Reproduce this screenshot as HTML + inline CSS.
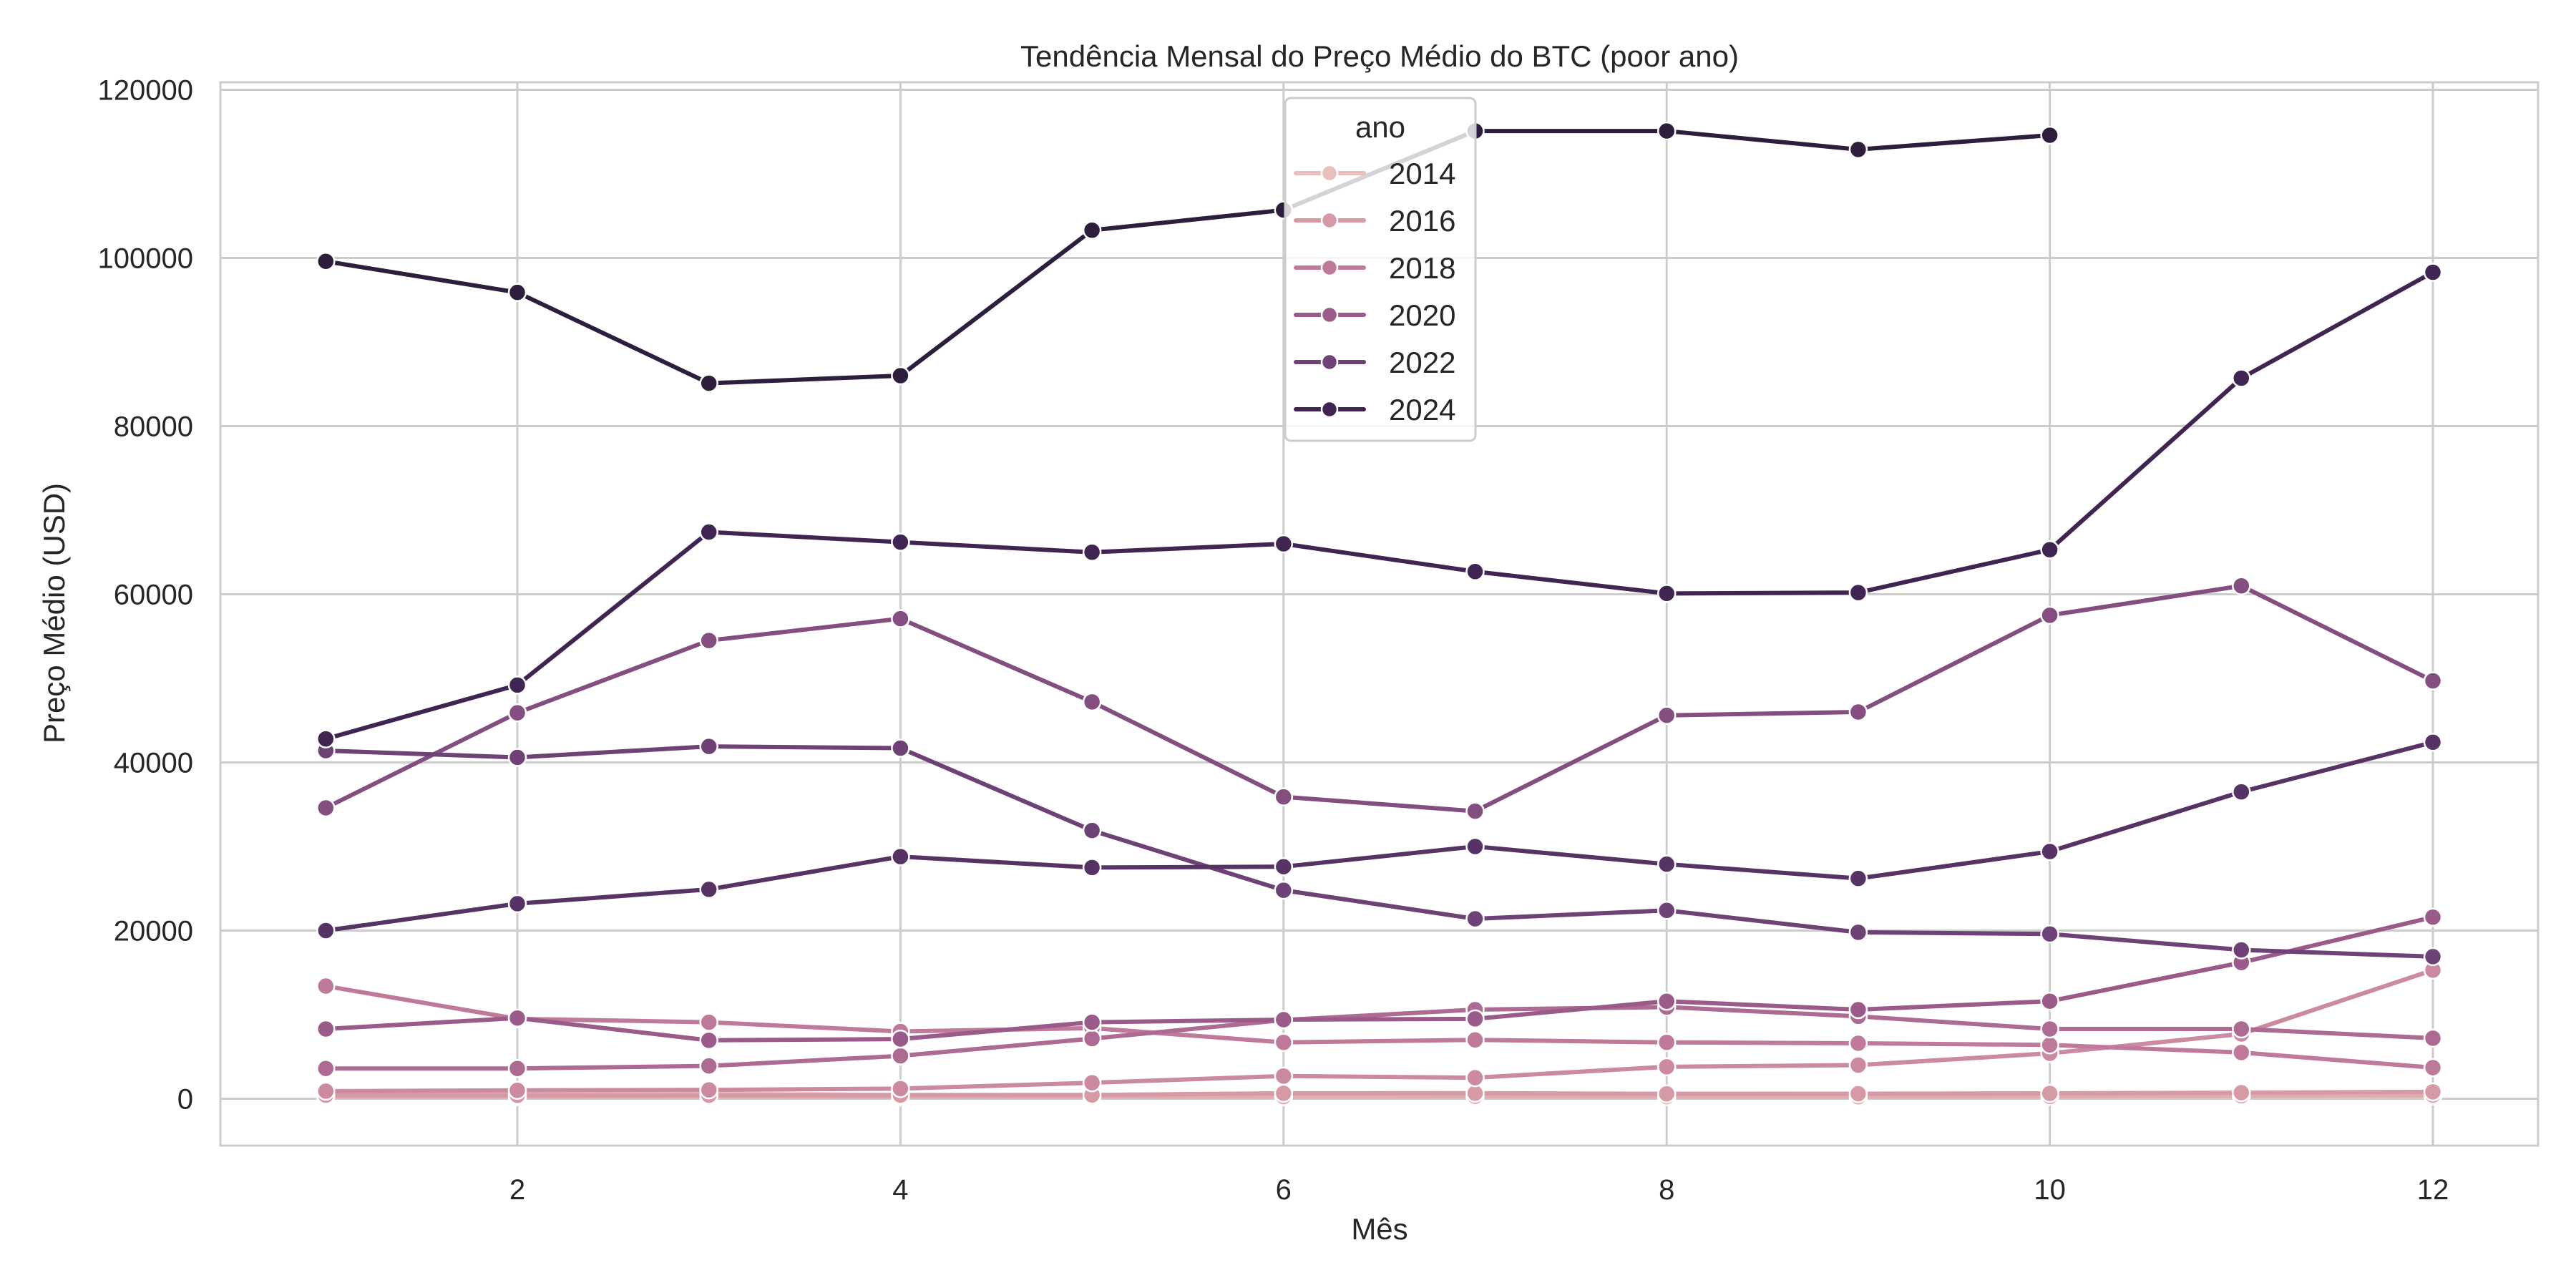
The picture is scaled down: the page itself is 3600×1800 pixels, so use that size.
<!DOCTYPE html>
<html><head><meta charset="utf-8">
<style>
html,body{margin:0;padding:0;background:#fff;}
svg{display:block;font-family:"Liberation Sans",Arial,sans-serif;}
</style></head>
<body>
<svg id="chart" width="3600" height="1800" viewBox="0 0 3600 1800" xmlns="http://www.w3.org/2000/svg">
<rect x="0" y="0" width="3600" height="1800" fill="#fff"/>
<g id="grid"></g>
<rect x="308" y="115" width="3239" height="1486" fill="none" stroke="#cccccc" stroke-width="3"/>
<g id="series"></g>
<g id="ticks" font-size="40" fill="#262626"></g>
<text x="1928" y="93" font-size="42" text-anchor="middle" fill="#262626">Tendência Mensal do Preço Médio do BTC (poor ano)</text>
<text x="1928" y="1732" font-size="42" text-anchor="middle" fill="#262626">Mês</text>
<text x="90" y="857" font-size="42" text-anchor="middle" fill="#262626" transform="rotate(-90 90 857)">Preço Médio (USD)</text>
<g id="legend"></g>
</svg>
<script>
const months = [1,2,3,4,5,6,7,8,9,10,11,12];
const years = [2014,2015,2016,2017,2018,2019,2020,2021,2022,2023,2024,2025];
const v2014 = [800,600,600,450,450,600,600,550,450,370,360,330];
const v2015 = [250,240,270,240,240,240,280,250,235,265,350,420];
const v2016 = [410,400,410,430,450,650,660,580,600,640,720,820];
const v2017 = [900,1000,1050,1200,1900,2700,2500,3800,4000,5400,7700,15300];
const v2018 = [13400,9500,9100,8000,8400,6700,7000,6700,6600,6400,5500,3700];
const v2019 = [3600,3600,3900,5100,7150,9360,10600,10900,9800,8300,8300,7200];
const v2020 = [8300,9600,6950,7100,9100,9400,9500,11600,10600,11600,16200,21600];
const v2021 = [34600,45900,54500,57100,47200,35900,34200,45600,46000,57500,61000,49700];
const v2022 = [41400,40600,41900,41700,31900,24800,21400,22400,19800,19600,17700,16900];
const v2023 = [20000,23200,24900,28800,27500,27600,30000,27900,26200,29400,36500,42400];
const v2024 = [42800,49200,67400,66200,65000,66000,62700,60100,60200,65300,85700,98300];
const v2025 = [99600,95900,85100,86000,103300,105700,115100,115100,112900,114600];
const seriesValues = [v2014,v2015,v2016,v2017,v2018,v2019,v2020,v2021,v2022,v2023,v2024,v2025];
const colors = ["#e8bfbc","#dfacb0","#d69aa5","#cb8a9f","#bf7a9a","#ad6a92","#9a5b8a","#854e81","#6e4177","#573365","#402552","#2d1e3e"];
const xTicks = [2,4,6,8,10,12];
const yTicks = [0,20000,40000,60000,80000,100000,120000];
const legendYears = [2014,2016,2018,2020,2022,2024];

const NS = "http://www.w3.org/2000/svg";
const X0 = 455.3, XU = 267.7;
const Y0 = 1535.5, YU = 235/20000;
function xs(m){ return X0 + (m-1)*XU; }
function ys(v){ return Y0 - v*YU; }
function mk(tag, attrs, parent){ const e=document.createElementNS(NS,tag); for(const k in attrs) e.setAttribute(k,attrs[k]); parent.appendChild(e); return e; }

const grid=document.getElementById('grid');
const ticks=document.getElementById('ticks');
xTicks.forEach(t=>{
  const l=mk('line',{x1:xs(t),x2:xs(t),y1:115,y2:1601,stroke:'#cccccc','stroke-width':3},grid);
  
  
  const tx=mk('text',{x:xs(t),y:1676,'text-anchor':'middle'},ticks);
  tx.textContent=t;
  
  
});
yTicks.forEach(t=>{
  const l=mk('line',{x1:308,x2:3547,y1:ys(t),y2:ys(t),stroke:'#cccccc','stroke-width':3},grid);
  
  
  const tx=mk('text',{x:270,y:ys(t)+14,'text-anchor':'end'},ticks);
  tx.textContent=t;
  
  
});

const sg=document.getElementById('series');
seriesValues.forEach((vals,i)=>{
  const g=mk('g',{},sg);
  
  
  const pts=vals.map((v,j)=>xs(months[j])+','+ys(v)).join(' ');
  const pl=mk('polyline',{points:pts,fill:'none',stroke:colors[i],'stroke-width':6,'stroke-linejoin':'round','stroke-linecap':'round'},g);
  
  
  vals.forEach((v,j)=>{
    const c=mk('circle',{cx:xs(months[j]),cy:ys(v),r:12,fill:colors[i],stroke:'#fff','stroke-width':2.5},g);
    
    
  });
});

const lg=document.getElementById('legend');
const box=mk('rect',{x:1796,y:137,width:266,height:479,rx:8,fill:'#ffffff','fill-opacity':0.8,stroke:'#cccccc','stroke-width':3},lg);


const lt=mk('text',{x:1929,y:192,'font-size':42,'text-anchor':'middle',fill:'#262626'},lg);
lt.textContent='ano';


legendYears.forEach((yr,k)=>{
  const ci=years.indexOf(yr);
  const y=242+k*66;
  const e=mk('g',{},lg);
  
  
  mk('line',{x1:1811,x2:1906,y1:y,y2:y,stroke:colors[ci],'stroke-width':6,'stroke-linecap':'round'},e);
  mk('circle',{cx:1858,cy:y,r:11,fill:colors[ci],stroke:'#fff','stroke-width':2.5},e);
  const t=mk('text',{x:1941,y:y+15,'font-size':42,fill:'#262626'},e);
  t.textContent=yr;
});
</script>
</body></html>
